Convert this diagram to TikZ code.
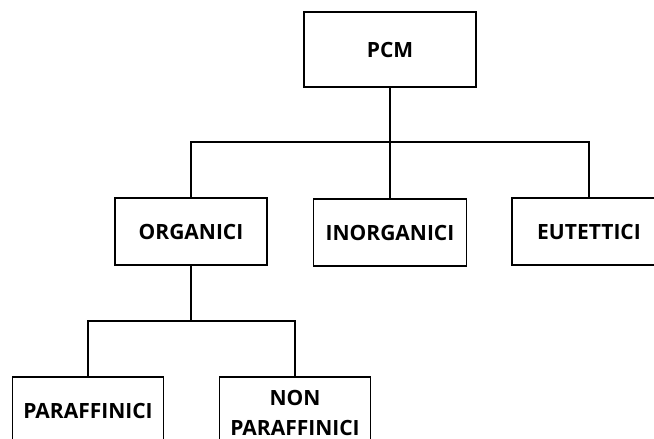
\documentclass[tikz,border=0pt]{standalone}
\usepackage{fontspec}
\setmainfont{Open Sans}
\begin{document}
\begin{tikzpicture}[x=1pt, y=-1pt, line width=1.6,
	box/.style={draw, fill=white, align=center, inner sep=0, font=\fontsize{21}{29.5}\selectfont\bfseries}]
	\useasboundingbox (0,0) rectangle (654,439);

	\node [box, minimum width=172, minimum height=75] (pcm) at (390,49.5) {PCM};
	\node [box, minimum width=152, minimum height=67] (org) at (191,231.5) {ORGANICI};
	\node [box, minimum width=153, minimum height=67] (inorg) at (390,232.5) {INORGANICI};
	\node [box, minimum width=154, minimum height=67] (eut) at (589,231.5) {EUTETTICI};
	\node [box, minimum width=151, minimum height=67] (par) at (88,410.5) {PARAFFINICI};
	\node [box, minimum width=151, minimum height=72] (nonpar) at (295,413) {NON\\PARAFFINICI};

	\coordinate (top) at (390,142);
	\coordinate (mid) at (191,321);

	\draw (pcm.south) -- (inorg.north);
	\draw (org.north) |- (top) -| (eut.north);
	\draw (org.south) -- (mid);
	\draw (par.north) |- (mid) -| (nonpar.north);

\end{tikzpicture}
\end{document}
